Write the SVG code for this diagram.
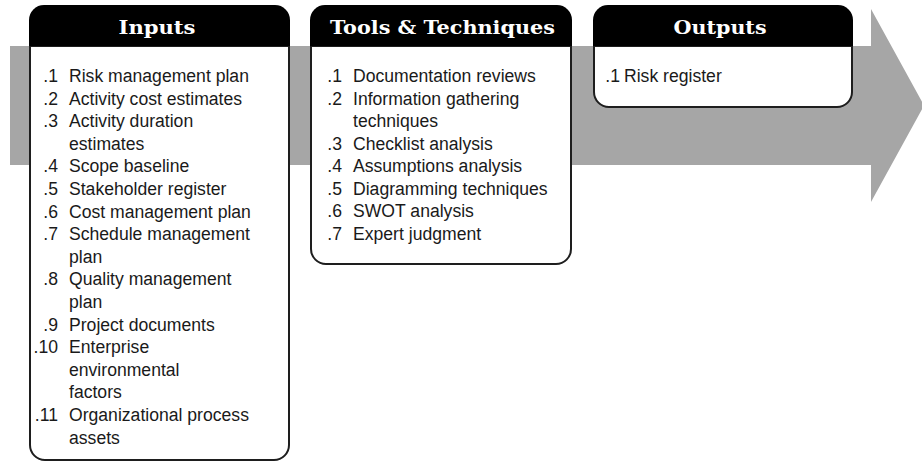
<svg xmlns="http://www.w3.org/2000/svg" width="922" height="463" viewBox="0 0 922 463">
<style>
.hd{fill:#000;}
.body{fill:#fff;stroke:#1e1e1e;stroke-width:2;}
.ht{font-family:"DejaVu Serif","Liberation Serif",serif;font-weight:bold;font-size:18px;fill:#fff;text-anchor:middle;}
.t{font-family:"Liberation Sans",Arial,sans-serif;font-size:17.6px;fill:#1a1a1a;}
.n{text-anchor:end;}
</style>
<g id="arrow">
<polygon points="10,46 871,46 871,9 924,105.5 871,202 871,165 10,165" fill="#a6a6a6"/>
</g>
<g id="inputs">
<path class="body" d="M30,46 H289 V445 A15,15 0 0 1 274,460 H45 A15,15 0 0 1 30,445 Z"/>
<path class="hd" d="M29,46 V20 A15,15 0 0 1 44,5 H275 A15,15 0 0 1 290,20 V46 Z"/>
<text class="ht" x="157" y="34" textLength="77" lengthAdjust="spacingAndGlyphs">Inputs</text>
<g class="t">
<text class="n" x="58" y="82">.1</text><text x="69" y="82">Risk management plan</text>
<text class="n" x="58" y="104.6">.2</text><text x="69" y="104.6">Activity cost estimates</text>
<text class="n" x="58" y="127.2">.3</text><text x="69" y="127.2">Activity duration</text>
<text x="69" y="149.8">estimates</text>
<text class="n" x="58" y="172.4">.4</text><text x="69" y="172.4">Scope baseline</text>
<text class="n" x="58" y="195">.5</text><text x="69" y="195">Stakeholder register</text>
<text class="n" x="58" y="217.6">.6</text><text x="69" y="217.6">Cost management plan</text>
<text class="n" x="58" y="240.2">.7</text><text x="69" y="240.2">Schedule management</text>
<text x="69" y="262.8">plan</text>
<text class="n" x="58" y="285.4">.8</text><text x="69" y="285.4">Quality management</text>
<text x="69" y="308">plan</text>
<text class="n" x="58" y="330.6">.9</text><text x="69" y="330.6">Project documents</text>
<text class="n" x="58" y="353.2">.10</text><text x="69" y="353.2">Enterprise</text>
<text x="69" y="375.8">environmental</text>
<text x="69" y="398.4">factors</text>
<text class="n" x="58" y="421">.11</text><text x="69" y="421">Organizational process</text>
<text x="69" y="443.6">assets</text>
</g>
</g>
<g id="tools">
<path class="body" d="M311,46 H571 V249 A15,15 0 0 1 556,264 H326 A15,15 0 0 1 311,249 Z"/>
<path class="hd" d="M310,46 V20 A15,15 0 0 1 325,5 H557 A15,15 0 0 1 572,20 V46 Z"/>
<text class="ht" x="442.5" y="34" textLength="225" lengthAdjust="spacingAndGlyphs">Tools &amp; Techniques</text>
<g class="t">
<text class="n" x="342" y="82">.1</text><text x="353" y="82">Documentation reviews</text>
<text class="n" x="342" y="104.5">.2</text><text x="353" y="104.5">Information gathering</text>
<text x="353" y="127">techniques</text>
<text class="n" x="342" y="149.5">.3</text><text x="353" y="149.5">Checklist analysis</text>
<text class="n" x="342" y="172">.4</text><text x="353" y="172">Assumptions analysis</text>
<text class="n" x="342" y="194.5">.5</text><text x="353" y="194.5">Diagramming techniques</text>
<text class="n" x="342" y="217">.6</text><text x="353" y="217">SWOT analysis</text>
<text class="n" x="342" y="239.5">.7</text><text x="353" y="239.5">Expert judgment</text>
</g>
</g>
<g id="outputs">
<path class="body" d="M594,46 H852 V92 A15,15 0 0 1 837,107 H609 A15,15 0 0 1 594,92 Z"/>
<path class="hd" d="M593,46 V20 A15,15 0 0 1 608,5 H838 A15,15 0 0 1 853,20 V46 Z"/>
<text class="ht" x="720" y="34" textLength="93" lengthAdjust="spacingAndGlyphs">Outputs</text>
<g class="t">
<text class="n" x="620" y="82">.1</text><text x="624" y="82">Risk register</text>
</g>
</g>
<g id="connectors"></g>
</svg>
